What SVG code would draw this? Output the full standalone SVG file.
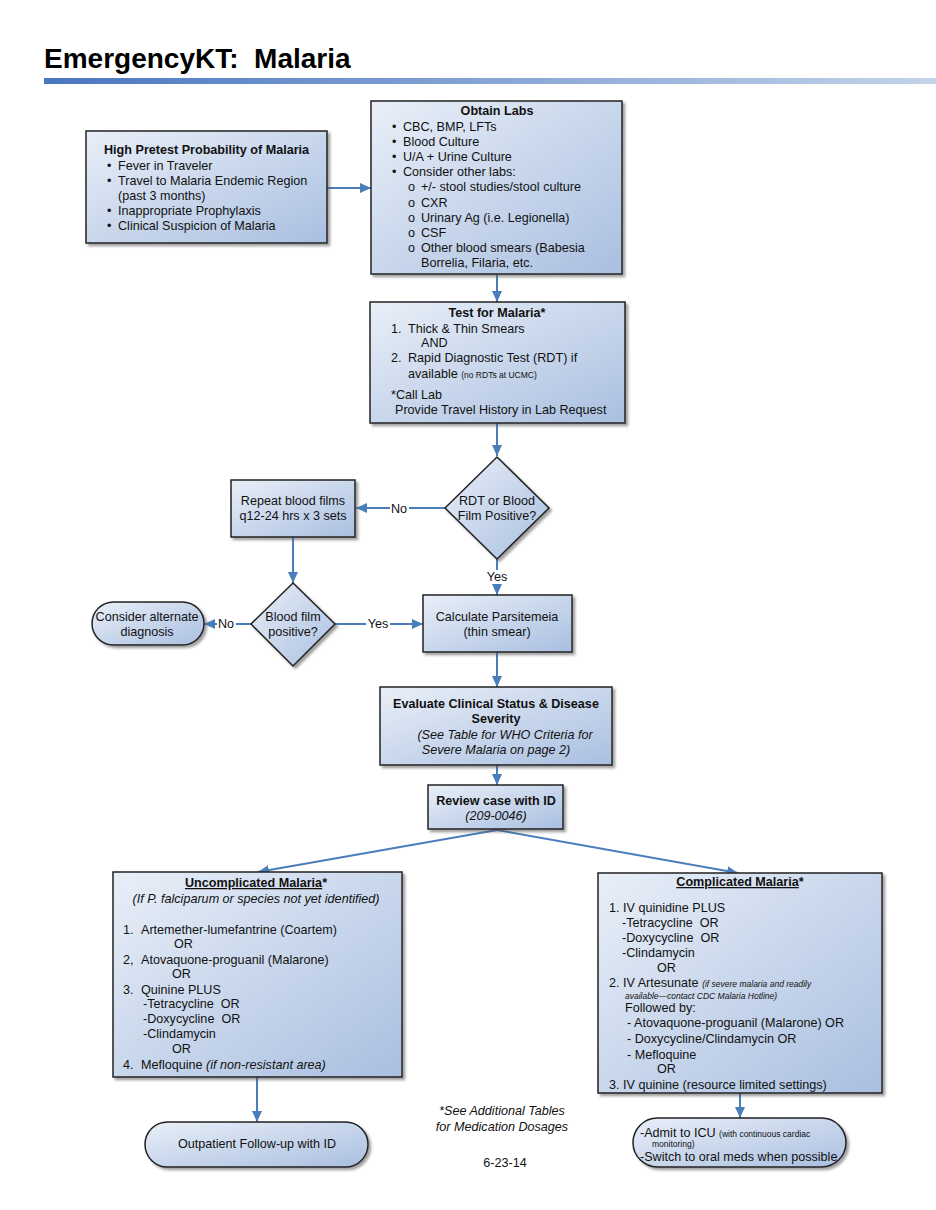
<svg xmlns="http://www.w3.org/2000/svg" width="936" height="1210" viewBox="0 0 936 1210">
<defs>
<linearGradient id="nodeFill" x1="0" y1="0" x2="1" y2="1">
<stop offset="0" stop-color="#e9eff8"/>
<stop offset="1" stop-color="#a9bfe0"/>
</linearGradient>
<linearGradient id="bar" x1="0" y1="0" x2="1" y2="0">
<stop offset="0" stop-color="#4a76c0"/>
<stop offset="1" stop-color="#c3d3ea"/>
</linearGradient>
<filter id="shadow" x="-10%" y="-10%" width="130%" height="130%">
<feDropShadow dx="2.5" dy="2.5" stdDeviation="1" flood-color="#555" flood-opacity="0.55"/>
</filter>
<marker id="arrow" markerUnits="userSpaceOnUse" markerWidth="11" markerHeight="10" refX="11" refY="5" orient="auto">
<path d="M0,0 L11,5 L0,10 z" fill="#4a7ebb"/>
</marker>
<style>
.node{fill:url(#nodeFill);stroke:#222;stroke-width:1.5;filter:url(#shadow)}
.t{font-family:"Liberation Sans",Arial,sans-serif;font-size:12.6px;fill:#111;white-space:pre}
.b{font-weight:bold}
.i{font-style:italic}
.c{text-anchor:middle}
.s{font-size:8.5px}
.conn{stroke:#4a7ebb;stroke-width:2;fill:none;marker-end:url(#arrow)}
.lbl{fill:#fff}
</style>
</defs>
<rect width="936" height="1210" fill="#fff"/>
<text x="44" y="68" style="font-family:'Liberation Sans',Arial,sans-serif;font-size:28px;font-weight:bold;white-space:pre" fill="#000">EmergencyKT:  Malaria</text>
<rect x="44" y="78" width="892" height="6" fill="url(#bar)"/>

<g id="connectors">
<line class="conn" x1="327" y1="188" x2="371" y2="188"/>
<line class="conn" x1="497" y1="274" x2="497" y2="302"/>
<line class="conn" x1="497" y1="423" x2="497" y2="456"/>
<line class="conn" x1="445" y1="508" x2="356" y2="508"/>
<line class="conn" x1="497" y1="559" x2="497" y2="595"/>
<line class="conn" x1="293" y1="537" x2="293" y2="583"/>
<line class="conn" x1="251" y1="624" x2="204" y2="624"/>
<line class="conn" x1="335" y1="624" x2="423" y2="624"/>
<line class="conn" x1="497" y1="652" x2="497" y2="687"/>
<line class="conn" x1="497" y1="765" x2="497" y2="785"/>
<line class="conn" x1="497" y1="830" x2="258" y2="872"/>
<line class="conn" x1="497" y1="830" x2="738" y2="873"/>
<line class="conn" x1="257" y1="1077" x2="257" y2="1122"/>
<line class="conn" x1="740" y1="1093" x2="740" y2="1118"/>
<rect class="lbl" x="390" y="502" width="19" height="13"/>
<text class="t c" x="399" y="513">No</text>
<rect class="lbl" x="485" y="570" width="24" height="14"/>
<text class="t c" x="497" y="581">Yes</text>
<rect class="lbl" x="217" y="618" width="19" height="13"/>
<text class="t c" x="226" y="628">No</text>
<rect class="lbl" x="366" y="618" width="24" height="13"/>
<text class="t c" x="378" y="628">Yes</text>
</g>

<g id="high-pretest">
<rect class="node" x="86" y="131" width="241" height="112"/>
<text class="t b" x="104" y="154">High Pretest Probability of Malaria</text>
<text class="t" x="107" y="170">•</text><text class="t" x="118" y="170">Fever in Traveler</text>
<text class="t" x="107" y="185">•</text><text class="t" x="118" y="185">Travel to Malaria Endemic Region</text>
<text class="t" x="118" y="200">(past 3 months)</text>
<text class="t" x="107" y="215">•</text><text class="t" x="118" y="215">Inappropriate Prophylaxis</text>
<text class="t" x="107" y="230">•</text><text class="t" x="118" y="230">Clinical Suspicion of Malaria</text>
</g>

<g id="obtain-labs">
<rect class="node" x="371" y="101" width="251" height="173"/>
<text class="t b c" x="497" y="115">Obtain Labs</text>
<text class="t" x="392" y="131">•</text><text class="t" x="403" y="131">CBC, BMP, LFTs</text>
<text class="t" x="392" y="146">•</text><text class="t" x="403" y="146">Blood Culture</text>
<text class="t" x="392" y="161">•</text><text class="t" x="403" y="161">U/A + Urine Culture</text>
<text class="t" x="392" y="176">•</text><text class="t" x="403" y="176">Consider other labs:</text>
<text class="t" x="408" y="191">o</text><text class="t" x="421" y="191">+/- stool studies/stool culture</text>
<text class="t" x="408" y="207">o</text><text class="t" x="421" y="207">CXR</text>
<text class="t" x="408" y="222">o</text><text class="t" x="421" y="222">Urinary Ag (i.e. Legionella)</text>
<text class="t" x="408" y="237">o</text><text class="t" x="421" y="237">CSF</text>
<text class="t" x="408" y="252">o</text><text class="t" x="421" y="252">Other blood smears (Babesia</text>
<text class="t" x="421" y="267">Borrelia, Filaria, etc.</text>
</g>

<g id="test-malaria">
<rect class="node" x="370" y="302" width="255" height="121"/>
<text class="t b c" x="497" y="317">Test for Malaria*</text>
<text class="t" x="391" y="333">1.</text><text class="t" x="408" y="333">Thick &amp; Thin Smears</text>
<text class="t" x="421" y="347">AND</text>
<text class="t" x="391" y="362">2.</text><text class="t" x="408" y="362">Rapid Diagnostic Test (RDT) if</text>
<text class="t" x="408" y="378">available <tspan class="s">(no RDTs at UCMC)</tspan></text>
<text class="t" x="391" y="399">*Call Lab</text>
<text class="t" x="395" y="414">Provide Travel History in Lab Request</text>
</g>

<g id="decision-rdt">
<polygon class="node" points="497,457 549,508 497,559 445,508"/>
<text class="t c" x="497" y="505">RDT or Blood</text>
<text class="t c" x="497" y="520">Film Positive?</text>
</g>

<g id="repeat-films">
<rect class="node" x="231" y="480" width="124" height="57"/>
<text class="t c" x="293" y="505">Repeat blood films</text>
<text class="t c" x="293" y="520">q12-24 hrs x 3 sets</text>
</g>

<g id="decision-film">
<polygon class="node" points="293,583 335,624 293,666 251,624"/>
<text class="t c" x="293" y="621">Blood film</text>
<text class="t c" x="293" y="636">positive?</text>
</g>

<g id="consider-alternate">
<rect class="node" x="92" y="602" width="112" height="43" rx="21.5"/>
<text class="t c" x="147" y="621">Consider alternate</text>
<text class="t c" x="147" y="636">diagnosis</text>
</g>

<g id="calculate">
<rect class="node" x="423" y="595" width="149" height="57"/>
<text class="t c" x="497" y="621">Calculate Parsitemeia</text>
<text class="t c" x="497" y="636">(thin smear)</text>
</g>

<g id="evaluate">
<rect class="node" x="380" y="687" width="232" height="78"/>
<text class="t b c" x="496" y="708">Evaluate Clinical Status &amp; Disease</text>
<text class="t b c" x="496" y="723">Severity</text>
<text class="t i c" x="505" y="739">(See Table for WHO Criteria for</text>
<text class="t i c" x="496" y="754">Severe Malaria on page 2)</text>
</g>

<g id="review-id">
<rect class="node" x="428" y="785" width="135" height="44"/>
<text class="t b c" x="496" y="805">Review case with ID</text>
<text class="t i c" x="496" y="820">(209-0046)</text>
</g>

<g id="uncomplicated">
<rect class="node" x="113" y="872" width="289" height="205"/>
<text class="t b c" x="256" y="887"><tspan text-decoration="underline">Uncomplicated Malaria</tspan>*</text>
<text class="t i c" x="256" y="903">(If P. falciparum or species not yet identified)</text>
<text class="t" x="123" y="934">1.</text><text class="t" x="141" y="934">Artemether-lumefantrine (Coartem)</text>
<text class="t" x="174" y="948">OR</text>
<text class="t" x="123" y="964">2,</text><text class="t" x="141" y="964">Atovaquone-proguanil (Malarone)</text>
<text class="t" x="172" y="978">OR</text>
<text class="t" x="123" y="994">3.</text><text class="t" x="141" y="994">Quinine PLUS</text>
<text class="t" x="143" y="1008">-Tetracycline  OR</text>
<text class="t" x="143" y="1023">-Doxycycline  OR</text>
<text class="t" x="143" y="1038">-Clindamycin</text>
<text class="t" x="172" y="1053">OR</text>
<text class="t" x="123" y="1069">4.</text><text class="t" x="141" y="1069">Mefloquine <tspan class="i">(if non-resistant area)</tspan></text>
</g>

<g id="complicated">
<rect class="node" x="598" y="873" width="284" height="220"/>
<text class="t b c" x="740" y="886"><tspan text-decoration="underline">Complicated Malaria</tspan>*</text>
<text class="t" x="609" y="912">1. IV quinidine PLUS</text>
<text class="t" x="622" y="927">-Tetracycline  OR</text>
<text class="t" x="622" y="942">-Doxycycline  OR</text>
<text class="t" x="622" y="957">-Clindamycin</text>
<text class="t" x="657" y="972">OR</text>
<text class="t" x="609" y="987">2. IV Artesunate <tspan class="s i">(if severe malaria and readily</tspan></text>
<text class="t s i" x="625" y="999">available—contact CDC Malaria Hotline)</text>
<text class="t" x="625" y="1012">Followed by:</text>
<text class="t" x="627" y="1027">- Atovaquone-proguanil (Malarone) OR</text>
<text class="t" x="627" y="1043">- Doxycycline/Clindamycin OR</text>
<text class="t" x="627" y="1059">- Mefloquine</text>
<text class="t" x="657" y="1073">OR</text>
<text class="t" x="609" y="1089">3. IV quinine (resource limited settings)</text>
</g>

<g id="outpatient">
<rect class="node" x="145" y="1122" width="223" height="45" rx="22.5"/>
<text class="t c" x="257" y="1148">Outpatient Follow-up with ID</text>
</g>

<g id="icu">
<rect class="node" x="633" y="1118" width="213" height="49" rx="24.5"/>
<text class="t" x="640" y="1137">-Admit to ICU <tspan class="s">(with continuous cardiac</tspan></text>
<text class="t s" x="652" y="1147">monitoring)</text>
<text class="t" x="640" y="1161">-Switch to oral meds when possible</text>
</g>

<g id="notes">
<text class="t i c" x="502" y="1115">*See Additional Tables</text>
<text class="t i c" x="502" y="1131">for Medication Dosages</text>
<text class="t c" x="505" y="1167">6-23-14</text>
</g>
</svg>
